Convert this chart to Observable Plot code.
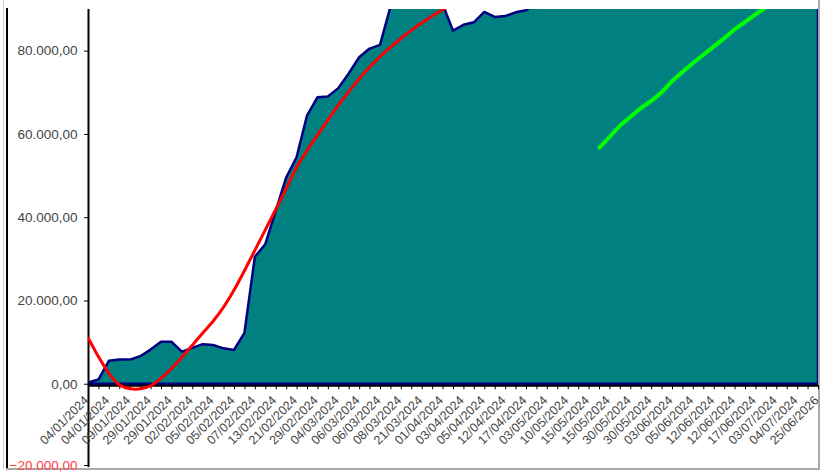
<!DOCTYPE html>
<html><head><meta charset="utf-8">
<script src="https://cdn.jsdelivr.net/npm/d3@7"></script>
<script src="https://cdn.jsdelivr.net/npm/@observablehq/plot@0.6"></script>
<style>
html,body{margin:0;padding:0;background:#fff;}
#wrap{position:relative;width:821px;height:475px;overflow:hidden;}
.b{position:absolute;}
svg{display:block;position:relative;z-index:1;background:transparent !important;}
</style></head><body>
<div id="wrap"></div>
<script>
// Tick labels (every other category is labelled)
const tickLabels = ["04/01/2024","04/01/2024","09/01/2024","29/01/2024","29/01/2024","02/02/2024","05/02/2024","05/02/2024","07/02/2024","13/02/2024","21/02/2024","29/02/2024","04/03/2024","06/03/2024","06/03/2024","08/03/2024","21/03/2024","01/04/2024","03/04/2024","05/04/2024","12/04/2024","17/04/2024","03/05/2024","10/05/2024","15/05/2024","15/05/2024","30/05/2024","30/05/2024","03/06/2024","05/06/2024","12/06/2024","12/06/2024","17/06/2024","03/07/2024","04/07/2024","25/06/2026"];

// Cumulative totals (area series), one per category
const totals = [300,1000,5500,5800,5800,6600,8200,10100,10100,7700,
  8600,9500,9300,8500,8100,12200,30500,33500,41500,49500,
  54400,64400,68800,69000,71000,74500,78400,80500,81400,90500,
  93000,95000,96000,94000,91200,84800,86200,86800,89300,88100,
  88300,89200,89700,91500,93000,94500,96000,97500,99000,100500,
  102000,103000,104500,106000,107000,108500,110000,111000,112500,114000,
  115000,116500,118000,119000,120500,122000,123000,124500,126000,127000,128500];

// Polynomial trend (red), read at each category from the start
const trend = [11000,6400,2500,-200,-1100,-1100,-300,1500,3900,6600,
  9500,12400,15300,18700,22800,27500,32400,37300,42200,47300,
  52300,56300,60000,63600,67200,70400,73500,76300,78800,81000,
  83100,85100,86900,88500,90000,91400];

// Green series, starting at category index 49
const greenStart = 49;
const green = [56800,59500,62200,64300,66400,68100,70200,72900,75100,77200,
  79200,81200,83200,85300,87100,88900,90600];

const yTicks = [0,20000,40000,60000,80000];
const yNegTicks = [-20000];

const locale = d3.formatLocale({decimal: ",", thousands: ".", grouping: [3], currency: ["", ""]});
const fmt = locale.format(",.2f");

const areaData = totals.map((v, i) => ({i, v}));
const trendData = trend.map((v, i) => ({i, v}));
const greenData = green.map((v, k) => ({i: greenStart + k, v}));
const allIdx = totals.map((_, i) => i);
const labelIdx = tickLabels.map((_, k) => k * 2);

const W = 821, H = 475, mt = 9, mb = 8, ml = 88, mr = 3;
const yDom = [-20000, 90000];
const tickLen = 4 * (yDom[1] - yDom[0]) / (H - mt - mb);

const font = "Liberation Sans, Arial, Helvetica, sans-serif";

const chart = Plot.plot({
  width: W, height: H,
  marginTop: mt, marginBottom: mb, marginLeft: ml, marginRight: mr,
  style: {fontFamily: font, background: "transparent"},
  x: {type: "linear", domain: [0, totals.length - 1], axis: null},
  y: {domain: yDom},
  marks: [
    Plot.areaY(areaData, {x: "i", y: "v", fill: "#008080", stroke: "#000080", strokeWidth: 2.5, strokeLinejoin: "round", clip: true}),
    Plot.ruleY([0], {stroke: "#000", strokeWidth: 2, dy: 1.5}),
    Plot.ruleX(allIdx, {x: d => d, y1: 0, y2: -tickLen, stroke: "#000", strokeWidth: 1, dy: 1.5}),
    Plot.ruleX([0], {stroke: "#000", strokeWidth: 2}),
    Plot.axisY(yTicks, {tickSize: 4, tickPadding: 7, tickFormat: fmt, fontSize: 13.5, fill: "#454545", stroke: "#000", label: null}),
    Plot.axisY(yNegTicks, {tickSize: 4, tickPadding: 7, tickFormat: fmt, fontSize: 13.5, fill: "#ff4040", stroke: "#000", label: null, dy: -2}),
    Plot.text(labelIdx, {x: d => d, y: 0, text: (d, k) => tickLabels[k], rotate: -45, textAnchor: "end", dx: -2, dy: 14, fontSize: 12.5, fill: "#454545"}),
    Plot.line(trendData, {x: "i", y: "v", stroke: "#ff0000", strokeWidth: 3, curve: "natural", clip: true}),
    Plot.line(greenData, {x: "i", y: "v", stroke: "#00ff00", strokeWidth: 4, strokeLinecap: "round", clip: true})
  ]
});

const wrap = document.getElementById("wrap");
function line(css){ const d = document.createElement("div"); d.className = "b"; d.style.cssText = css; wrap.appendChild(d); }
line("left:3px;top:0;width:1px;height:469px;background:#ccc;");
line("left:6px;top:8px;width:2px;height:461px;background:#000;");
line("left:6px;top:468px;width:814px;height:2px;background:#aaa;");
line("left:818px;top:0;width:2px;height:469px;background:#aaa;");
wrap.appendChild(chart);
</script>
</body></html>
